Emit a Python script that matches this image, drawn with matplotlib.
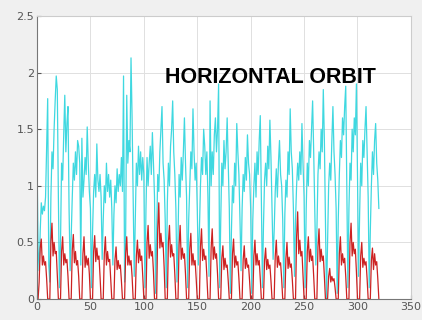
import numpy as np
import matplotlib
matplotlib.use("Agg")
import matplotlib.pyplot as plt

# cyan trace, 10 samples per row (x = 0..319), last value at x = 320
cyan = [
    1.25, 0.45, 0.25, 0.6, 0.85, 0.75, 0.82, 0.78, 0.9, 1.35,
    1.77, 0.3, 0.15, 0.9, 1.3, 1.15, 1.5, 1.75, 1.97, 1.85,
    0.9, 0.1, 0.5, 1.2, 1.05, 1.45, 1.8, 1.3, 1.55, 1.7,
    0.8, 0.25, 0.55, 0.9, 1.2, 1.05, 1.3, 1.1, 1.4, 1.35,
    1.2, 0.3, 1.42, 0.9, 1.05, 1.25, 1.1, 1.52, 1.2, 0.95,
    0.8, 0.1, 0.6, 0.95, 1.1, 0.9, 1.37, 1.05, 0.95, 1.1,
    0.9, 0.35, 0.7, 1.0, 0.85, 1.2, 0.95, 1.1, 0.9, 1.05,
    0.8, 0.3, 0.75, 1.0, 0.85, 1.15, 0.95, 1.1, 1.0, 1.25,
    0.95, 1.97, 0.15, 0.6, 1.8, 1.2, 1.4, 1.3, 2.13, 1.6,
    0.9, 0.2, 0.7, 1.2, 1.0, 1.35, 1.1, 1.3, 1.05, 1.25,
    1.1, 0.1, 0.8, 1.25, 1.0, 1.2, 1.35, 1.1, 1.47, 1.2,
    0.9, 0.05, 0.6, 1.1, 0.95, 1.3, 1.5, 1.7, 1.2, 1.05,
    0.7, 0.1, 0.85, 1.2, 1.0, 1.35, 1.5, 1.75, 1.3, 1.1,
    0.8, 0.15, 0.55, 1.1, 0.9, 1.25, 1.05, 1.3, 1.6, 1.2,
    0.9, 0.1, 0.7, 1.0, 1.3, 1.15, 1.68, 1.3, 1.05, 1.2,
    0.8, 0.3, 0.6, 1.0, 1.25, 1.1, 1.5, 1.35, 1.1, 1.3,
    0.9, 0.2, 1.75, 1.0, 1.3, 1.1, 1.45, 1.6, 1.3, 1.5,
    1.9, 0.1, 0.7, 1.2, 1.0, 1.4, 1.15, 1.3, 1.6, 1.2,
    0.8, 0.05, 0.6, 1.0, 0.85, 1.2, 1.0, 1.55, 1.3, 1.1,
    0.7, 0.25, 0.8, 1.1, 0.95, 1.25, 1.05, 1.45, 1.2, 1.1,
    0.8, 0.05, 0.7, 1.0, 1.2, 0.9, 1.3, 1.1, 1.4, 1.62,
    0.9, 0.1, 0.65, 1.05, 1.2, 1.0, 1.35, 1.15, 1.58, 1.25,
    0.8, 0.35, 0.6, 0.95, 1.15, 0.9, 1.2, 1.4, 1.1, 1.0,
    0.7, 0.1, 0.75, 1.05, 0.9, 1.3, 1.1, 1.68, 1.3, 1.15,
    0.8, 0.2, 0.7, 1.0, 1.2, 1.05, 1.3, 1.1, 1.55, 1.2,
    0.9, 0.1, 0.8, 1.2, 1.0, 1.4, 1.25, 1.5, 1.75, 1.3,
    0.8, 0.3, 0.6, 1.1, 1.3, 1.15, 1.5, 1.3, 1.85, 1.4,
    0.7, 0.0, 0.5, 1.0, 1.2, 1.05, 1.4, 1.7, 1.3, 1.1,
    0.8, 0.05, 0.7, 1.1, 1.4, 1.25, 1.6, 1.45, 1.7, 1.88,
    1.0, 0.1, 0.8, 1.2, 1.05, 1.5, 1.3, 1.6, 1.45, 1.9,
    1.1, 0.2, 0.75, 1.2, 1.0, 1.4, 1.25, 1.5, 1.7, 1.3,
    0.9, 0.1, 0.6, 1.0, 1.3, 1.1, 1.4, 1.55, 1.2, 1.05,
    0.8,
]

# red trace, one pulse per row
red = [
    0, 0, 0.15, 0.45, 0.53, 0.3, 0.38, 0.3, 0.33, 0.18,
    0, 0, 0, 0.5, 0.67, 0.38, 0.5, 0.4, 0.42, 0.22,
    0, 0, 0, 0.42, 0.55, 0.3, 0.4, 0.32, 0.35, 0.2,
    0, 0, 0, 0.43, 0.57, 0.32, 0.42, 0.3, 0.34, 0.2,
    0, 0, 0, 0.4, 0.55, 0.28, 0.38, 0.3, 0.36, 0.22,
    0, 0, 0, 0.42, 0.56, 0.33, 0.45, 0.35, 0.38, 0.2,
    0, 0, 0, 0.4, 0.55, 0.3, 0.42, 0.33, 0.35, 0.18,
    0, 0, 0, 0.35, 0.46, 0.26, 0.34, 0.27, 0.3, 0.16,
    0, 0, 0, 0.4, 0.55, 0.3, 0.38, 0.3, 0.34, 0.2,
    0, 0, 0, 0.38, 0.52, 0.32, 0.44, 0.34, 0.38, 0.2,
    0, 0, 0, 0.5, 0.65, 0.36, 0.48, 0.38, 0.42, 0.24,
    0, 0, 0, 0.62, 0.85, 0.45, 0.58, 0.46, 0.5, 0.28,
    0, 0, 0, 0.5, 0.65, 0.37, 0.48, 0.38, 0.4, 0.22,
    0, 0, 0, 0.48, 0.65, 0.35, 0.45, 0.36, 0.4, 0.22,
    0, 0, 0, 0.44, 0.58, 0.3, 0.4, 0.3, 0.34, 0.18,
    0, 0, 0, 0.46, 0.62, 0.34, 0.44, 0.35, 0.38, 0.2,
    0, 0, 0, 0.45, 0.62, 0.35, 0.46, 0.36, 0.4, 0.22,
    0, 0, 0, 0.36, 0.47, 0.26, 0.36, 0.28, 0.3, 0.16,
    0, 0, 0, 0.4, 0.53, 0.28, 0.38, 0.3, 0.33, 0.18,
    0, 0, 0, 0.35, 0.47, 0.27, 0.36, 0.28, 0.3, 0.16,
    0, 0, 0, 0.38, 0.52, 0.3, 0.4, 0.3, 0.34, 0.18,
    0, 0, 0, 0.34, 0.45, 0.26, 0.35, 0.27, 0.3, 0.16,
    0, 0, 0, 0.38, 0.52, 0.28, 0.38, 0.3, 0.32, 0.18,
    0, 0, 0, 0.36, 0.5, 0.27, 0.37, 0.28, 0.31, 0.17,
    0, 0, 0, 0.55, 0.77, 0.4, 0.52, 0.38, 0.42, 0.22,
    0, 0, 0, 0.42, 0.55, 0.33, 0.44, 0.34, 0.38, 0.2,
    0, 0, 0, 0.46, 0.62, 0.33, 0.44, 0.34, 0.38, 0.2,
    0, 0, 0, 0.2, 0.27, 0.15, 0.2, 0.16, 0.18, 0.1,
    0, 0, 0, 0.4, 0.55, 0.3, 0.4, 0.32, 0.36, 0.2,
    0, 0, 0, 0.5, 0.67, 0.38, 0.5, 0.4, 0.44, 0.24,
    0, 0, 0, 0.38, 0.5, 0.28, 0.36, 0.3, 0.33, 0.18,
    0, 0, 0, 0.34, 0.45, 0.26, 0.4, 0.3, 0.33, 0.18,
    0,
]

x = np.arange(len(cyan))
xticks = [0, 50, 100, 150, 200, 250, 300, 350]
yticks = [0, 0.5, 1, 1.5, 2, 2.5]
ylabels = ['0', '0.5', '1', '1.5', '2', '2.5']

fig = plt.figure(figsize=(4.22, 3.2), dpi=100, facecolor='#f0f0f0')
ax = fig.add_axes([0.0877, 0.0656, 0.886, 0.8844])
ax.set_facecolor('white')

ax.plot(x, cyan, color='#3fd8e0', lw=0.9)
ax.plot(x, red, color='#cc2222', lw=0.9)

ax.set_xlim(0, 350)
ax.set_ylim(0, 2.5)
ax.set_xticks(xticks)
ax.set_yticks(yticks)
ax.set_yticklabels(ylabels)
ax.tick_params(direction='in', length=3, labelsize=8, colors='#555555', pad=2)
ax.grid(True, color='#e0e0e0', lw=0.7)
ax.set_axisbelow(True)
for s in ['left', 'bottom']:
    ax.spines[s].set_color('#777777')
for s in ['top', 'right']:
    ax.spines[s].set_color('#cccccc')

ax.text(120, 1.96, 'HORIZONTAL ORBIT', fontsize=15.5, fontweight='bold',
        family='Liberation Sans', color='black', va='center', ha='left')

fig.savefig('out.png', dpi=100, facecolor=fig.get_facecolor())
